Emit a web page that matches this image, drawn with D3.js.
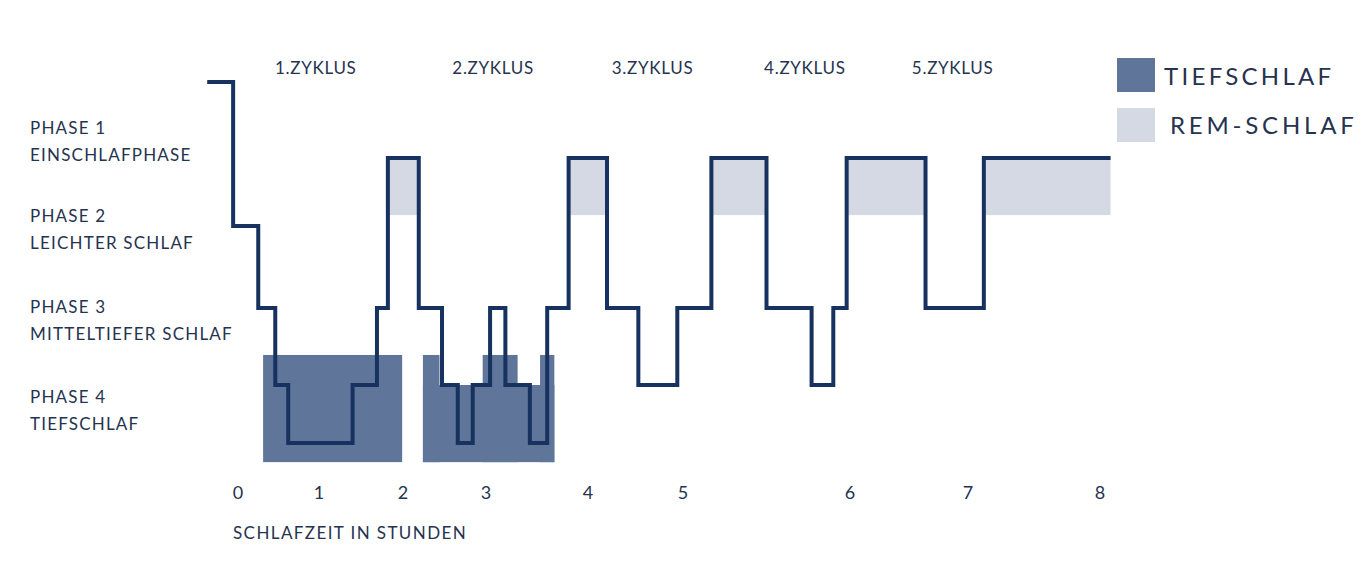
<!DOCTYPE html>
<html>
<head>
<meta charset="utf-8">
<script src="https://cdn.jsdelivr.net/npm/d3@7"></script>
<style>
  body { margin: 0; background: #fff; }
  text { font-family: "Lato", "Open Sans", sans-serif; fill: #26334f; }
</style>
</head>
<body>
<svg id="vis" width="1364" height="563"></svg>
<script>
// hours on the (uneven) time axis
const hourTicks = [0, 1, 2, 3, 4, 5, 6, 7, 8];
// depth: 0 awake, 1 phase1 ... 5 deep end of phase 4
const phaseLabels = [
    ["PHASE 1", "EINSCHLAFPHASE"],
    ["PHASE 2", "LEICHTER SCHLAF"],
    ["PHASE 3", "MITTELTIEFER SCHLAF"],
    ["PHASE 4", "TIEFSCHLAF"]
];
const cycleNames = ["1.ZYKLUS", "2.ZYKLUS", "3.ZYKLUS", "4.ZYKLUS", "5.ZYKLUS"];
const cycleHours = [0.96, 3.07, 4.68, 5.73, 6.87];

// hypnogram: [hour, depth]
const hypnoTime = [-0.38, -0.06, 0.25, 0.46, 0.62, 1.40, 1.69, 1.82, 2.19, 2.47, 2.66, 2.84, 3.04, 3.19, 3.43, 3.60, 3.81, 4.20, 4.53, 4.94, 5.17, 5.50, 5.77, 5.90, 5.98, 6.64, 7.12, 8.08];
const hypnoDepth = [0, 2, 3, 4, 5, 4, 3, 1, 3, 4, 5, 4, 3, 4, 5, 3, 1, 3, 4, 3, 1, 3, 4, 3, 1, 3, 1, 1];

// deep sleep blocks: [start, end, topDepth]
const deepStart = [0.31, 2.24, 2.24, 2.96, 3.53];
const deepEnd = [1.99, 3.67, 2.44, 3.31, 3.67];
const deepTop = [3.61, 4.0, 3.61, 3.61, 3.61];
const deepBottom = 5.33;

// REM blocks
const remStart = [1.82, 3.81, 5.17, 5.98, 7.12];
const remEnd = [2.19, 4.20, 5.50, 6.64, 8.08];
const remBottom = 1.84;

const svg = d3.select("#vis");

const x = d3.scaleLinear()
    .domain(hourTicks)
    .range([238, 319, 403, 486, 588, 683, 850, 968, 1100]);
const y = d3.scaleLinear()
    .domain([0, 1, 2, 3, 4, 5])
    .range([82, 158, 226, 308, 385, 443]);

// deep sleep
svg.append("g").selectAll("rect").data(deepStart).join("rect")
    .attr("x", (d, i) => x(d))
    .attr("width", (d, i) => x(deepEnd[i]) - x(d))
    .attr("y", (d, i) => y(deepTop[i]))
    .attr("height", (d, i) => y(deepBottom) - y(deepTop[i]))
    .attr("fill", "#5f7599");

// REM
svg.append("g").selectAll("rect").data(remStart).join("rect")
    .attr("x", d => x(d))
    .attr("width", (d, i) => x(remEnd[i]) - x(d))
    .attr("y", y(1))
    .attr("height", y(remBottom) - y(1))
    .attr("fill", "#d4d9e3");

const line = d3.line()
    .x(d => x(d[0]))
    .y(d => y(d[1]))
    .curve(d3.curveStepAfter);

svg.append("path")
    .datum(hypnoTime.map((t, i) => [t, hypnoDepth[i]]))
    .attr("d", line)
    .attr("fill", "none")
    .attr("stroke", "#17325f")
    .attr("stroke-width", 4)
    .attr("stroke-linejoin", "miter");

// phase labels
phaseLabels.forEach((p, i) => {
    const t = svg.append("text")
        .attr("x", 30)
        .attr("y", [134, 222, 313, 403][i])
        .attr("font-size", 17)
        .attr("letter-spacing", 1.2);
    t.append("tspan").attr("x", 30).text(p[0]);
    t.append("tspan").attr("x", 30).attr("dy", 27).text(p[1]);
});

// cycles
svg.append("g").selectAll("text").data(cycleNames).join("text")
    .attr("x", (d, i) => x(cycleHours[i]))
    .attr("y", 74)
    .attr("text-anchor", "middle")
    .attr("font-size", 17)
    .attr("letter-spacing", 0.7)
    .text(d => d);

// x axis ticks
svg.append("g").selectAll("text").data(hourTicks).join("text")
    .attr("x", d => x(d))
    .attr("y", 499)
    .attr("text-anchor", "middle")
    .attr("font-size", 18)
    .text(d => d);

svg.append("text")
    .attr("x", 233)
    .attr("y", 539)
    .attr("font-size", 17)
    .attr("letter-spacing", 1.4)
    .text("SCHLAFZEIT IN STUNDEN");

// legend
svg.append("rect").attr("x", 1117).attr("y", 58).attr("width", 38).attr("height", 34).attr("fill", "#5f7599");
svg.append("rect").attr("x", 1117).attr("y", 108).attr("width", 38).attr("height", 34).attr("fill", "#d4d9e3");
svg.append("text").attr("x", 1164).attr("y", 85).attr("font-size", 24).attr("letter-spacing", 3.3).text("TIEFSCHLAF");
svg.append("text").attr("x", 1170).attr("y", 134).attr("font-size", 24).attr("letter-spacing", 3.8).text("REM-SCHLAF");
</script>
</body>
</html>
